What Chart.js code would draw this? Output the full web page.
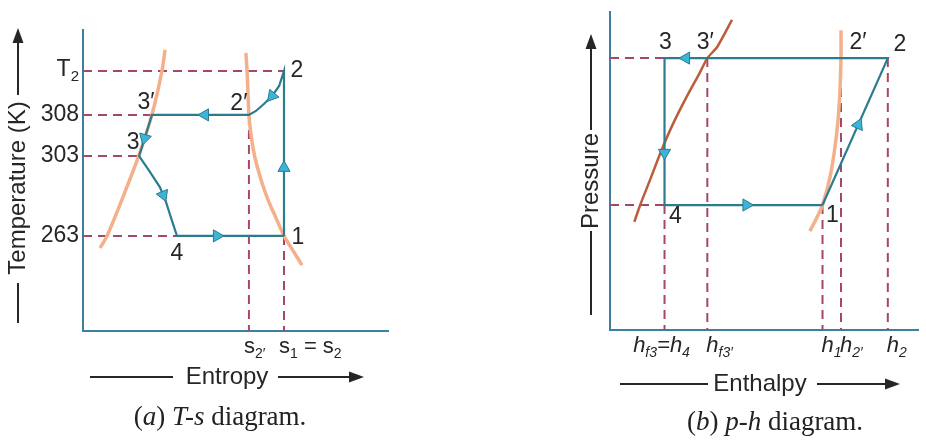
<!DOCTYPE html>
<html>
<head>
<meta charset="utf-8">
<script src="https://cdn.jsdelivr.net/npm/chart.js@4.4.1/dist/chart.umd.min.js"></script>
<style>
  body { margin: 0; background: #fff; width: 926px; height: 441px; position: relative; overflow: hidden; }
  .panel { position: absolute; top: 0; }
  .caption { position: absolute; font-family: "Liberation Serif", "Times New Roman", serif; font-size: 27px; color: #222; text-align: center; line-height: 30px; }
  .caption i { font-style: italic; }
</style>
</head>
<body>
<canvas id="ts" class="panel" width="463" height="441" style="left:0"></canvas>
<canvas id="ph" class="panel" width="463" height="441" style="left:463px"></canvas>
<div class="caption" style="left:100px; width:240px; top:401px">(<i>a</i>) <i>T-s</i> diagram.</div>
<div class="caption" style="left:655px; width:240px; top:406px">(<i>b</i>) <i>p-h</i> diagram.</div>
<script>
// ---- T-s diagram (schematic units 0..100 on both axes) ----
const tsPtName = ['1', '2', '2′', '3′', '3', '4']
const tsPtS = [65.9, 65.9, 54.4, 22.6, 18.4, 30.8]
const tsPtT = [31.6, 86.4, 71.8, 71.8, 58.1, 31.6]

// cycle 1-2-2'-3'-3-4-1 (with points along the curved parts)
const tsCycleS = [65.9, 65.9, 64.3, 62.0, 59.3, 56.7, 54.4, 22.6, 18.4, 22.0, 25.2, 27.2, 28.9, 30.8, 65.9]
const tsCycleT = [31.6, 86.4, 81.4, 78.1, 75.4, 73.1, 71.8, 71.8, 58.1, 52.8, 47.8, 42.9, 37.5, 31.6, 31.6]

// saturated liquid / vapour lines
const tsLiqS = [5.6, 7.9, 13.1, 18.2, 22.6, 25.9, 26.9]
const tsLiqT = [27.6, 31.6, 44.5, 58.0, 71.8, 86.4, 93.4]
const tsVapS = [53.4, 53.8, 54.4, 55.1, 56.4, 58.4, 60.7, 63.3, 65.9, 68.9, 71.8]
const tsVapT = [92.4, 86.4, 71.8, 65.1, 57.5, 50.2, 43.5, 37.5, 31.6, 26.6, 21.9]

// flow direction arrows
const tsArrowS = [62.0, 40.0, 20.2, 26.3, 43.9, 65.9]
const tsArrowT = [78.1, 71.8, 64.1, 45.2, 31.6, 54.2]
const tsArrowDeg = [220, 270, 196, 158, 90, 0]

// temperature tick labels: which state point sets each level
const tsTickPt = [5, 4, 3, 1]
const tsTickLabel = [[['263']], [['303']], [['308']], [['T'], ['2', 1]]]
const tsXTickPt = [2, 0]
const tsXTickLabel = [[['s'], ['2′', 1]], [['s'], ['1', 1], [' = s'], ['2', 1]]]

// ---- p-h diagram ----
const phPtName = ['1', '2', '2′', '3′', '3', '4']
const phPtH = [69.0, 90.2, 75.0, 31.6, 17.7, 17.7]
const phPtP = [39.3, 85.5, 85.5, 85.5, 85.5, 39.3]

const phCycleH = [69.0, 90.2, 17.7, 17.7, 69.0]
const phCycleP = [39.3, 85.5, 85.5, 39.3, 39.3]

const phLiqH = [7.9, 9.8, 13.0, 16.5, 20.3, 24.7, 29.1, 31.6, 34.8, 39.6]
const phLiqP = [34.0, 39.3, 47.2, 56.0, 64.5, 73.0, 80.8, 85.5, 89.0, 97.5]
const phVapH = [75.0, 75.0, 74.7, 74.1, 73.1, 71.5, 69.0, 67.1, 64.9]
const phVapP = [94.3, 85.5, 76.1, 66.7, 57.9, 48.4, 39.3, 35.2, 31.1]

const phArrowH = [80.6, 24.7, 17.7, 44.3]
const phArrowP = [64.5, 85.5, 55.7, 39.3]
const phArrowDeg = [24.5, 270, 180, 90]

const phXTickPt = [5, 3, 0, 2, 1]
const phXTickLabel = [
    [['h'], ['f3', 1], ['=h'], ['4', 1]],
    [['h'], ['f3′', 1]],
    [['h'], ['1', 1]],
    [['h'], ['2′', 1]],
    [['h'], ['2', 1]]
]

// ---- styles ----
const CYCLE = '#2b7c8e'
const ARROW = '#3bb4d8'
const DASH = '#a5476b'
const SAT = '#f4b08a'
const SAT_DARK = '#bb5c3a'
const AXIS = '#3d7f9e'
const INK = '#262626'
const SANS = '"Liberation Sans", Arial, sans-serif'

const pts = (xs, ys) => xs.map((x, i) => ({ x: x, y: ys[i] }))

function line(data, color, width, order, extra) {
    return Object.assign({ data: data, showLine: true, borderColor: color, borderWidth: width, pointRadius: 0, tension: 0, order: order }, extra || {})
}

function dashed(x0, y0, x1, y1) {
    return line([{ x: x0, y: y0 }, { x: x1, y: y1 }], DASH, 2, 4, { borderDash: [9, 6] })
}

function arrows(xs, ys, degs) {
    return {
        data: pts(xs, ys), showLine: false, order: 0,
        pointStyle: 'triangle', pointRadius: 7, pointBorderWidth: 1,
        pointBackgroundColor: ARROW, pointBorderColor: CYCLE,
        pointRotation: ctx => degs[ctx.dataIndex]
    }
}

function rich(ctx, segs, x, y, align, size, italic) {
    const f = sub => (italic ? 'italic ' : '') + (sub ? Math.round(size * 0.64) : size) + 'px ' + SANS
    let w = 0
    segs.forEach(s => { ctx.font = f(s[1]); w += ctx.measureText(s[0]).width })
    let cx = align === 'right' ? x - w : align === 'center' ? x - w / 2 : x
    ctx.textBaseline = 'middle'
    ctx.textAlign = 'left'
    segs.forEach(s => {
        ctx.font = f(s[1])
        ctx.fillText(s[0], cx, s[1] ? y + size * 0.32 : y)
        cx += ctx.measureText(s[0]).width
    })
}

function arrowHead(ctx, x, y, dir) {
    // dir: 'up' or 'right'
    ctx.beginPath()
    if (dir === 'up') { ctx.moveTo(x, y); ctx.lineTo(x - 5.5, y + 15); ctx.lineTo(x + 5.5, y + 15) }
    else { ctx.moveTo(x, y); ctx.lineTo(x - 15, y - 5.5); ctx.lineTo(x - 15, y + 5.5) }
    ctx.closePath()
    ctx.fill()
}

function scales() {
    const ax = {
        type: 'linear', min: 0, max: 100,
        grid: { display: false, drawTicks: false },
        ticks: { display: false },
        border: { display: true, color: AXIS, width: 2 }
    }
    return {
        x: Object.assign({}, ax, { afterFit: s => { s.height = 0 } }),
        y: Object.assign({}, ax, { afterFit: s => { s.width = 0 } })
    }
}

// ---- T-s chart ----
const tsLabels = {
    id: 'tsLabels',
    afterDraw(chart) {
        const ctx = chart.ctx, x = chart.scales.x, y = chart.scales.y
        const off = [[14, 2], [13, 0], [-10, -11], [-6, -12], [-6, -13], [0, 18]]
        ctx.save()
        ctx.fillStyle = INK
        tsPtName.forEach((n, i) => {
            rich(ctx, [[n]], x.getPixelForValue(tsPtS[i]) + off[i][0], y.getPixelForValue(tsPtT[i]) + off[i][1], 'center', 23)
        })
        tsTickPt.forEach((p, i) => {
            const dy = i === 3 ? -1 : 0
            rich(ctx, tsTickLabel[i], chart.chartArea.left - 4, y.getPixelForValue(tsPtT[p]) + dy, 'right', 23)
        })
        tsXTickPt.forEach((p, i) => {
            rich(ctx, tsXTickLabel[i], x.getPixelForValue(tsPtS[p]) - 5, chart.chartArea.bottom + 16, 'left', 22)
        })
        // axis titles with arrows
        ctx.strokeStyle = INK
        ctx.lineWidth = 2
        ctx.beginPath()
        ctx.moveTo(18, 323); ctx.lineTo(18, 283)
        ctx.moveTo(18, 95); ctx.lineTo(18, 42)
        ctx.moveTo(90, 377); ctx.lineTo(173, 377)
        ctx.moveTo(278, 377); ctx.lineTo(352, 377)
        ctx.stroke()
        arrowHead(ctx, 18, 28, 'up')
        arrowHead(ctx, 364, 377, 'right')
        ctx.font = '24px ' + SANS
        ctx.textAlign = 'center'
        ctx.textBaseline = 'middle'
        ctx.fillText('Entropy', 227, 377)
        ctx.translate(18, 188)
        ctx.rotate(-Math.PI / 2)
        ctx.fillText('Temperature (K)', 0, 0)
        ctx.restore()
    }
}

new Chart(document.getElementById('ts'), {
    type: 'scatter',
    data: {
        datasets: [
            arrows(tsArrowS, tsArrowT, tsArrowDeg),
            line(pts(tsCycleS, tsCycleT), CYCLE, 2.2, 1),
            line(pts(tsLiqS, tsLiqT), SAT, 3.5, 2, { tension: 0.2 }),
            line(pts(tsVapS, tsVapT), SAT, 3.5, 2, { tension: 0.2 }),
            dashed(0, tsPtT[1], tsPtS[1], tsPtT[1]),
            dashed(0, tsPtT[3], tsPtS[3], tsPtT[3]),
            dashed(0, tsPtT[4], tsPtS[4], tsPtT[4]),
            dashed(0, tsPtT[5], tsPtS[5], tsPtT[5]),
            dashed(tsPtS[2], tsPtT[2], tsPtS[2], 0),
            dashed(tsPtS[0], tsPtT[0], tsPtS[0], 0)
        ]
    },
    options: {
        responsive: false,
        animation: false,
        layout: { padding: { left: 83, top: 30, right: 75, bottom: 110 } },
        plugins: { legend: { display: false }, tooltip: { enabled: false } },
        scales: scales()
    },
    plugins: [tsLabels]
})

// ---- p-h chart ----
const phLabels = {
    id: 'phLabels',
    afterDraw(chart) {
        const ctx = chart.ctx, x = chart.scales.x, y = chart.scales.y
        const off = [[10, 11], [12, -13], [17, -15], [-2, -15], [1, -15], [11, 12]]
        ctx.save()
        ctx.fillStyle = INK
        phPtName.forEach((n, i) => {
            rich(ctx, [[n]], x.getPixelForValue(phPtH[i]) + off[i][0], y.getPixelForValue(phPtP[i]) + off[i][1], 'center', 23)
        })
        phXTickPt.forEach((p, i) => {
            const px = x.getPixelForValue(phPtH[p])
            if (i === 0) rich(ctx, phXTickLabel[i], px - 3, chart.chartArea.bottom + 16, 'center', 22, true)
            else rich(ctx, phXTickLabel[i], px - 1, chart.chartArea.bottom + 16, 'left', 22, true)
        })
        ctx.strokeStyle = INK
        ctx.lineWidth = 2
        ctx.beginPath()
        ctx.moveTo(128, 315); ctx.lineTo(128, 231)
        ctx.moveTo(128, 130); ctx.lineTo(128, 48)
        ctx.moveTo(157, 384); ctx.lineTo(245, 384)
        ctx.moveTo(354, 384); ctx.lineTo(425, 384)
        ctx.stroke()
        arrowHead(ctx, 128, 34, 'up')
        arrowHead(ctx, 437, 384, 'right')
        ctx.font = '24px ' + SANS
        ctx.textAlign = 'center'
        ctx.textBaseline = 'middle'
        ctx.fillText('Enthalpy', 297, 384)
        ctx.translate(128, 181)
        ctx.rotate(-Math.PI / 2)
        ctx.fillText('Pressure', 0, 0)
        ctx.restore()
    }
}

new Chart(document.getElementById('ph'), {
    type: 'scatter',
    data: {
        datasets: [
            arrows(phArrowH, phArrowP, phArrowDeg),
            line(pts(phCycleH, phCycleP), CYCLE, 2.2, 1),
            line(pts(phLiqH, phLiqP), SAT_DARK, 2.5, 2, { tension: 0.2 }),
            line(pts(phVapH, phVapP), SAT, 3.5, 2, { tension: 0.2 }),
            dashed(0, phPtP[4], phPtH[4], phPtP[4]),
            dashed(0, phPtP[5], phPtH[5], phPtP[5]),
            dashed(phPtH[5], phPtP[5], phPtH[5], 0),
            dashed(phPtH[3], phPtP[3], phPtH[3], 0),
            dashed(phPtH[0], phPtP[0], phPtH[0], 0),
            dashed(phPtH[2], phPtP[2], phPtH[2], 0),
            dashed(phPtH[1], phPtP[1], phPtH[1], 0)
        ]
    },
    options: {
        responsive: false,
        animation: false,
        layout: { padding: { left: 147, top: 12, right: 0, bottom: 111 } },
        plugins: { legend: { display: false }, tooltip: { enabled: false } },
        scales: scales()
    },
    plugins: [phLabels]
})
</script>
</body>
</html>
